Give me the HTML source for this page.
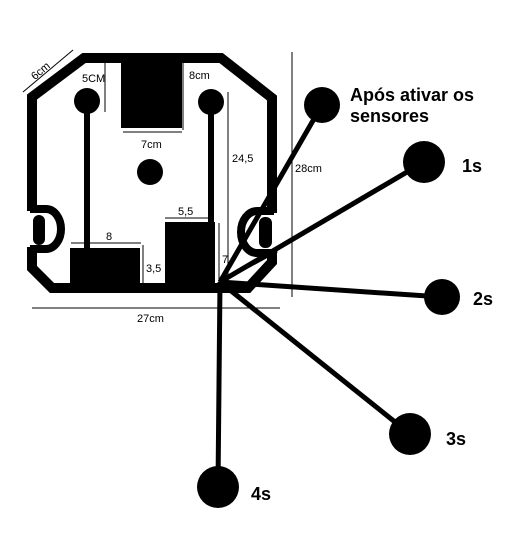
<!DOCTYPE html>
<html><head><meta charset="utf-8"><style>
html,body{margin:0;padding:0;background:#fff;width:517px;height:539px;overflow:hidden}
svg{display:block}
.s{font-family:"Liberation Sans",sans-serif;font-size:11px;fill:#000}
.b{font-family:"Liberation Sans",sans-serif;font-weight:bold;font-size:18px;fill:#000}
</style></head><body>
<svg width="517" height="539" viewBox="0 0 517 539">
<g>
<path d="M84,58 L221,58 L272,98 L272,262 L248,288 L52,288 L32,268 L32,97 Z" fill="none" stroke="#000" stroke-width="10" stroke-linejoin="miter"/>
<rect x="26" y="211" width="12" height="36" fill="#fff"/>
<path d="M30,209 L46,209 A15,20 0 0 1 46,249 L30,249" fill="none" stroke="#000" stroke-width="8"/>
<rect x="33" y="215" width="12" height="30" rx="6" fill="#000"/>
<rect x="266" y="213" width="12" height="37" fill="#fff"/>
<path d="M274,211 L257,211 A16,21 0 0 0 257,253 L274,253" fill="none" stroke="#000" stroke-width="8"/>
<rect x="259" y="217" width="13" height="31" rx="6" fill="#000"/>
</g>
<g>
<rect x="121" y="55" width="61" height="73" fill="#000"/>
<rect x="70" y="248" width="70" height="35" fill="#000"/>
<rect x="165" y="222" width="50" height="61" fill="#000"/>
<line x1="87" y1="101" x2="87" y2="250" stroke="#000" stroke-width="6"/>
<line x1="211" y1="102" x2="211" y2="222" stroke="#000" stroke-width="6"/>
<circle cx="87" cy="101" r="13" fill="#000"/>
<circle cx="211" cy="102" r="13" fill="#000"/>
<circle cx="150" cy="172" r="13" fill="#000"/>
</g>
<g stroke="#000" stroke-width="1">
<line x1="105" y1="62" x2="105" y2="112"/>
<line x1="183" y1="62" x2="183" y2="130"/>
<line x1="123" y1="132" x2="182" y2="132"/>
<line x1="71" y1="243" x2="141" y2="243"/>
<line x1="143" y1="245" x2="143" y2="283"/>
<line x1="165" y1="218" x2="208" y2="218"/>
<line x1="219" y1="223" x2="219" y2="283"/>
<line x1="228" y1="92" x2="228" y2="287"/>
<line x1="292" y1="52" x2="292" y2="297"/>
<line x1="32" y1="308" x2="280" y2="308"/>
<line x1="23" y1="92" x2="73" y2="50"/>
</g>
<g>
<text class="s" x="82" y="82">5CM</text>
<text class="s" x="189" y="79">8cm</text>
<text class="s" x="141" y="148">7cm</text>
<text class="s" x="232" y="162">24,5</text>
<text class="s" x="295" y="172">28cm</text>
<text class="s" x="178" y="215">5,5</text>
<text class="s" x="106" y="240">8</text>
<text class="s" x="146" y="272">3,5</text>
<text class="s" x="222" y="263">7</text>
<text class="s" x="137" y="322">27cm</text>
<text class="s" x="30" y="77" transform="rotate(-40 37 72)">6cm</text>
</g>
<g stroke="#000" stroke-width="5">
<line x1="220" y1="282" x2="322" y2="105"/>
<line x1="220" y1="282" x2="424" y2="162"/>
<line x1="220" y1="282" x2="442" y2="297"/>
<line x1="220" y1="282" x2="410" y2="434"/>
<line x1="220" y1="282" x2="218" y2="486"/>
<line x1="220" y1="282" x2="277" y2="251" stroke-width="3"/>
</g>
<circle cx="322" cy="105" r="18" fill="#000"/>
<circle cx="424" cy="162" r="21" fill="#000"/>
<circle cx="442" cy="297" r="18" fill="#000"/>
<circle cx="410" cy="434" r="21" fill="#000"/>
<circle cx="218" cy="487" r="21" fill="#000"/>
<text class="b" x="350" y="101">Após ativar os</text>
<text class="b" x="350" y="122">sensores</text>
<text class="b" x="462" y="172">1s</text>
<text class="b" x="473" y="305">2s</text>
<text class="b" x="446" y="445">3s</text>
<text class="b" x="251" y="500">4s</text>
</svg>
</body></html>
